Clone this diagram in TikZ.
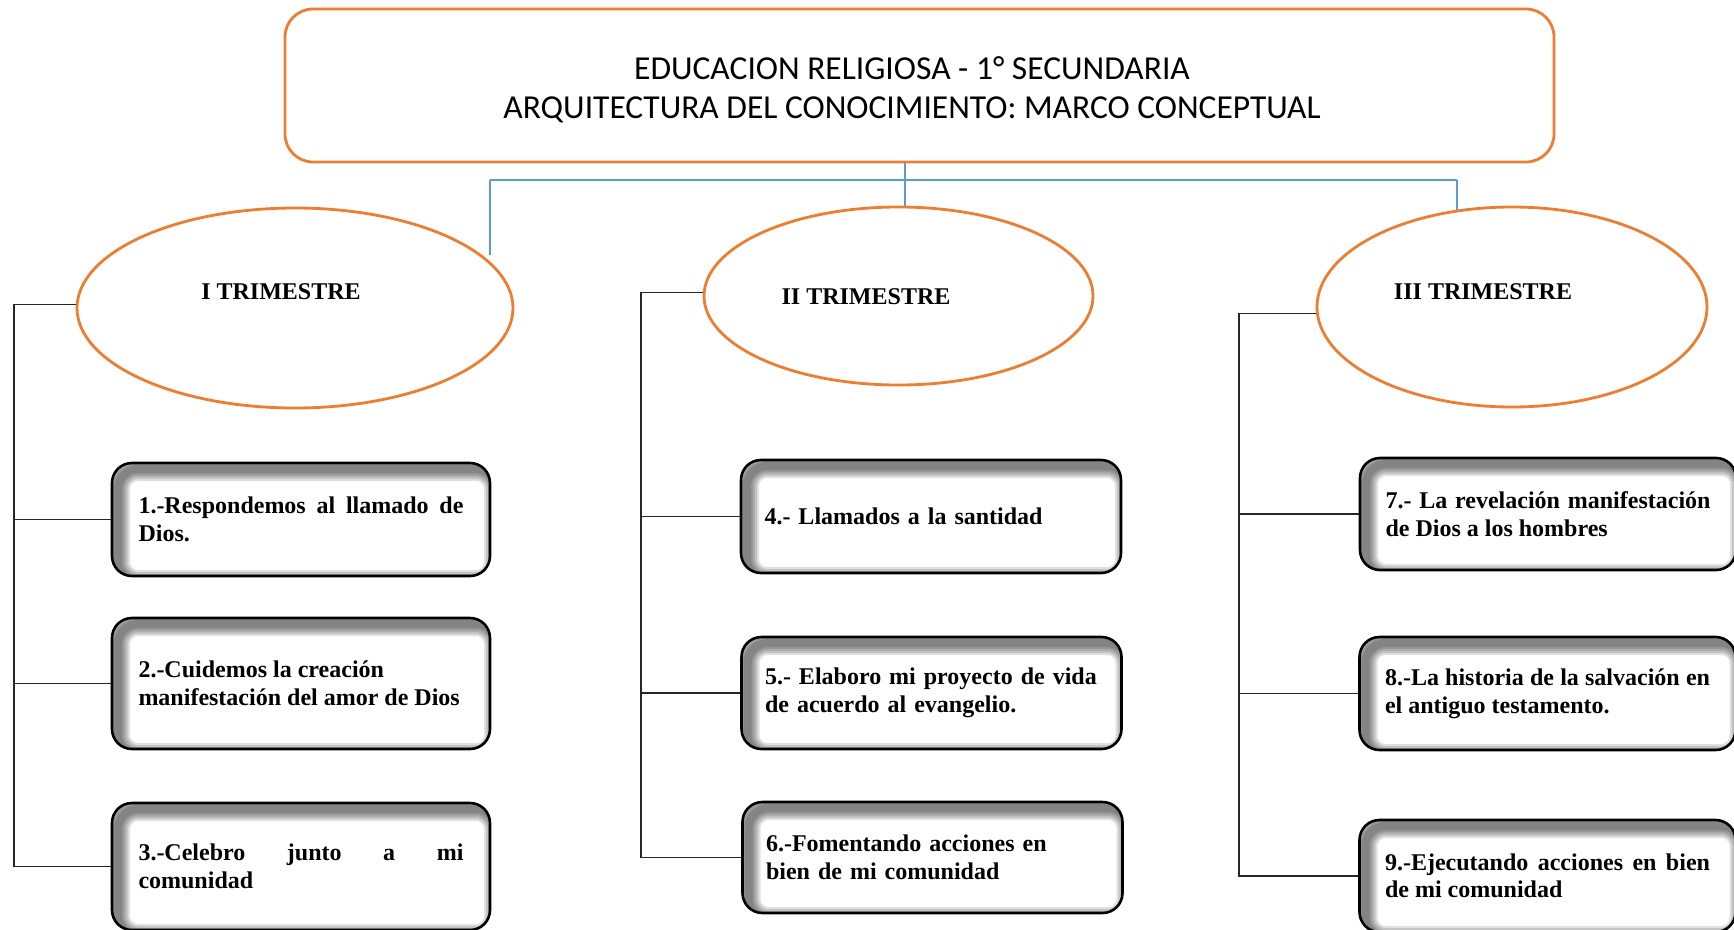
\documentclass[tikz,border=0pt]{standalone}
\usepackage{fontspec}
\setmainfont{Liberation Serif}
\newfontfamily\calib{Carlito}
\usetikzlibrary{shapes.geometric,calc}
\definecolor{orng}{HTML}{ED7D31}
\definecolor{bluel}{HTML}{5B9BD5}
\begin{document}
\begin{tikzpicture}[x=1pt,y=-1pt,
  topbox/.style={draw=orng, line width=2.8pt, rounded corners=28pt, fill=white, inner sep=0pt,
    align=center, font=\calib\fontsize{33.5}{38.5}\selectfont},
  trim/.style={ellipse, draw=orng, line width=2.8pt, fill=white, inner sep=0pt},
  lbl/.style={inner sep=0pt, font=\fontsize{24}{27.6}\selectfont\bfseries},
  unitbox/.style={draw=black, line width=2.6pt, rounded corners=20pt, fill=white, inner sep=0pt,
    font=\fontsize{24}{27.6}\selectfont\bfseries,
    path picture={
      \foreach \lw in {8pt,12pt,16pt,20pt,24pt}{
        \draw[black, fill=none, opacity=0.12, line width=\lw, rounded corners=20pt]
          ([shift={(6pt,-6pt)}]path picture bounding box.south west) rectangle
          ([shift={(6pt,-6pt)}]path picture bounding box.north east);
      }
    }},
  colA/.style={unitbox, text width=325pt, align=justify, minimum width=378pt},
  colB/.style={unitbox, text width=333pt, align=left, minimum width=380pt},
  colC/.style={unitbox, text width=325pt, align=justify, minimum width=376pt},
  bline/.style={draw=bluel, line width=1.5pt},
  conn/.style={draw=black!85, line width=1.3pt}
]
\clip (0,0) rectangle (1734,929);
\fill[white] (0,0) rectangle (1734,929);

% title
\node[topbox, minimum width=1269pt, minimum height=153pt] (top) at (919.5,85.5) {};
\node[inner sep=0pt, align=center, font=\calib\fontsize{33.5}{38.5}\selectfont] (title) at (912,90)
  {EDUCACION RELIGIOSA - 1° SECUNDARIA\\ARQUITECTURA DEL CONOCIMIENTO: MARCO CONCEPTUAL};

% trimesters
\node[trim, minimum width=436pt, minimum height=200pt] (e1) at (295,308) {};
\node[trim, minimum width=389pt, minimum height=178pt] (e2) at (898.5,296) {};
\node[trim, minimum width=390pt, minimum height=200pt] (e3) at (1512,307) {};
\node[lbl] (t1) at (281,292) {I TRIMESTRE};
\node[lbl] (t2) at (866,297) {II TRIMESTRE};
\node[lbl] (t3) at (1483,292) {III TRIMESTRE};

% units
\node[colA, minimum height=113pt] (b1) at (301,519.5) {1.-Respondemos al llamado de\linebreak Dios.};
\node[colA, minimum height=131pt] (b2) at (301,683.5) {2.-Cuidemos la creación\\manifestación del amor de Dios};
\node[colA, minimum height=127pt] (b3) at (301,866.5) {3.-Celebro junto a mi\linebreak comunidad};

\node[colB, minimum height=113pt] (b4) at (931,516.5) {4.- Llamados a la santidad};
\node[colB, minimum height=112pt] (b5) at (931.5,693) {5.- Elaboro mi proyecto de vida\\de acuerdo al evangelio.};
\node[colB, minimum height=111pt] (b6) at (932.5,857.5) {6.-Fomentando acciones en\\bien de mi comunidad};

\node[colC, minimum height=112pt] (b7) at (1548,514) {7.- La revelación manifestación\linebreak de Dios a los hombres};
\node[colC, minimum height=113pt] (b8) at (1547.5,693.5) {8.-La historia de la salvación en\linebreak el antiguo testamento.};
\node[colC, minimum height=112pt] (b9) at (1547.5,876) {9.-Ejecutando acciones en bien\linebreak de mi comunidad};

% blue connectors
\coordinate (hub) at (905,180);
\coordinate (hubL) at (490,180);
\coordinate (hubR) at (1457,180);
\coordinate (endL) at (490,255);
\coordinate (endR) at (1457,210);
\draw[bline] (hub |- top.south) -- (hub);
\draw[bline] (hubL) -- (hubR);
\draw[bline] (hubL) -- (endL);
\draw[bline] (hubR) -- (endR);
\draw[bline] (hub) -- (hub |- e2.north);

% black connectors
\coordinate (k1) at (14,0);
\coordinate (k2) at (641,0);
\coordinate (k3) at (1239,0);
\draw[conn] (e1.179) -- (k1 |- e1.179) -- (k1 |- b3.west) -- (b3.west);
\draw[conn] (k1 |- b1.west) -- (b1.west);
\draw[conn] (k1 |- b2.west) -- (b2.west);
\draw[conn] (e2.179) -- (k2 |- e2.179) -- (k2 |- b6.west) -- (b6.west);
\draw[conn] (k2 |- b4.west) -- (b4.west);
\draw[conn] (k2 |- b5.west) -- (b5.west);
\draw[conn] (e3.182) -- (k3 |- e3.182) -- (k3 |- b9.west) -- (b9.west);
\draw[conn] (k3 |- b7.west) -- (b7.west);
\draw[conn] (k3 |- b8.west) -- (b8.west);
\end{tikzpicture}
\end{document}
